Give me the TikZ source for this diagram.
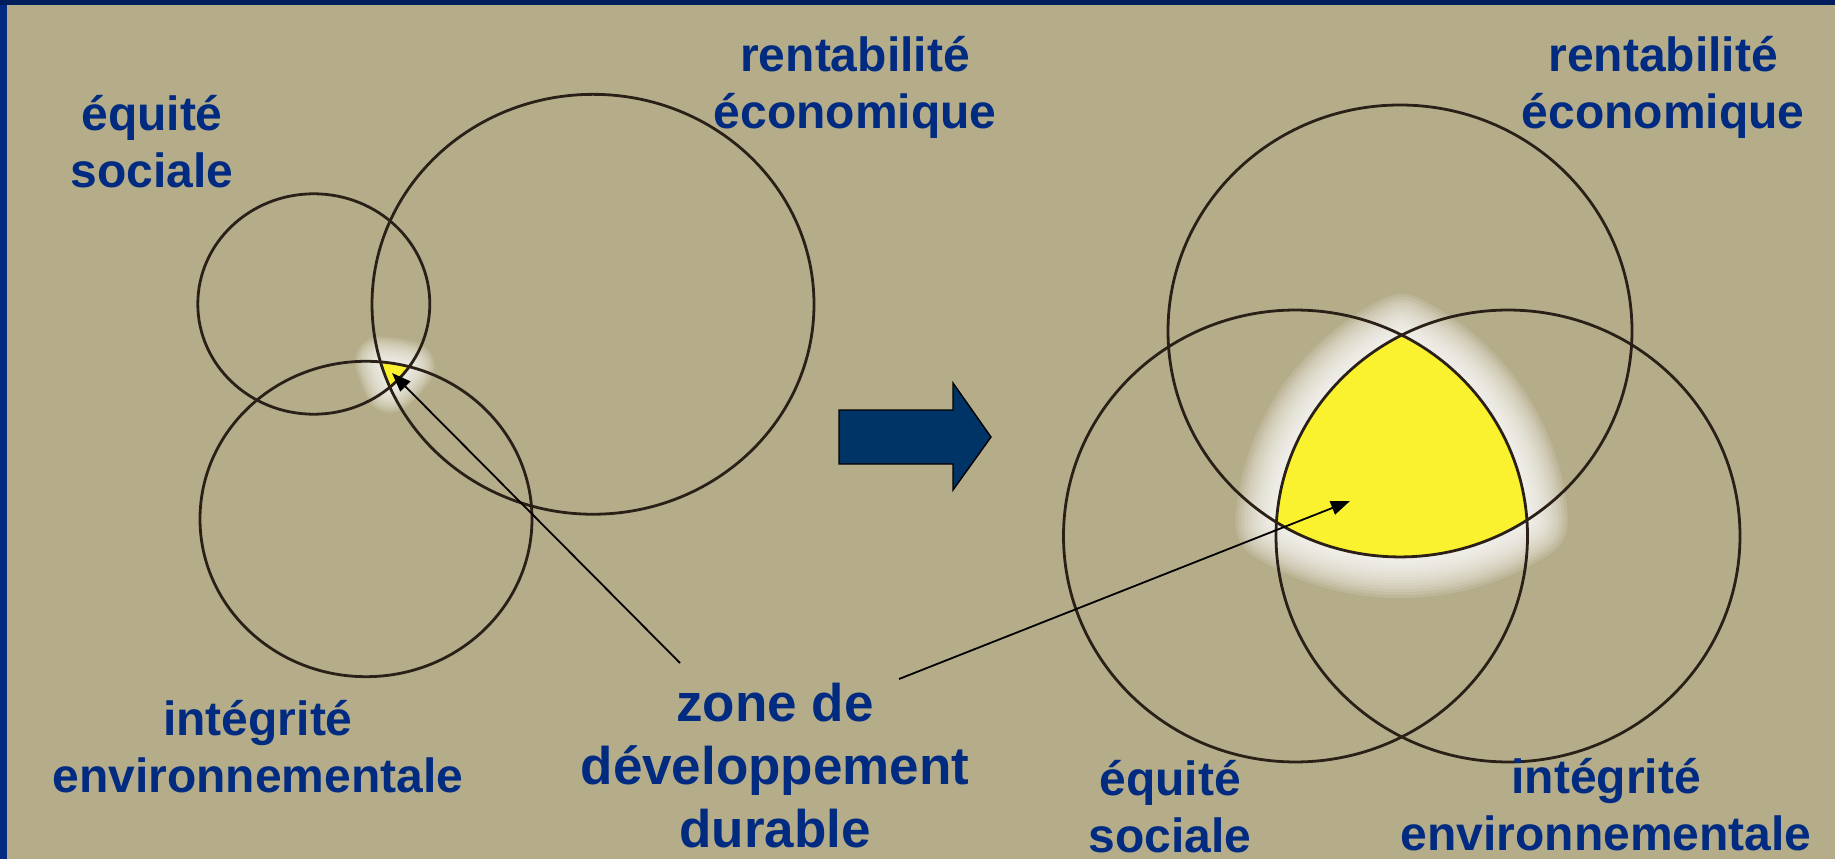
\documentclass[tikz,border=0pt]{standalone}
\usepackage{fontspec}
\setmainfont{Liberation Sans}
\usetikzlibrary{arrows.meta}
\definecolor{Sand}{HTML}{B5AD8A}
\definecolor{Navy}{HTML}{002B80}
\definecolor{NavyDark}{HTML}{001E5C}
\definecolor{ShiftBlue}{HTML}{003366}
\definecolor{Ring}{HTML}{2B2018}
\definecolor{Zone}{HTML}{FBF22F}
% outlines of the two overlaps (arcs of the three rings)
\newcommand{\smallzone}{(380.5,381.0) arc[start angle=-85.0,end angle=-74.92,radius=166]
  arc[start angle=34.68,end angle=48.95,radius=116]
  arc[start angle=156.76,end angle=164.06,radius=221] -- cycle}
\newcommand{\bigzone}{(1401.75,344.1) arc[start angle=-117.26,end angle=-176.52,radius=232]
  arc[start angle=122.19,end angle=56.84,radius=232]
  arc[start angle=-4.03,end angle=-62.74,radius=232] -- cycle}

\begin{document}
\begin{tikzpicture}[x=1pt,y=-1pt,>={Triangle[length=19pt,width=14pt]},
  every node/.style={text=Navy,font=\fontsize{48}{57}\selectfont\bfseries,align=center,anchor=base,inner sep=0pt},
  ring/.style={draw=Ring,line width=2.8pt},
  halo/.style={draw=white,line join=round},
  pointer/.style={draw=black,line width=1.8pt,->}]
  % slide background and frame
  \useasboundingbox (0,0) rectangle (1835,859);
  \fill[Sand] (0,0) rectangle (1835,859);
  \fill[Navy] (0,0) rectangle (7,859);
  \fill[NavyDark] (0,0) rectangle (1835,5);

  % before: three rings barely touching
  \begin{scope}[y=-0.95pt]
    \foreach \w in {3,7,...,51}
      \draw[halo,draw opacity=0.11,line width=\w] \smallzone;
    \fill[Zone] \smallzone;
    \draw[ring] (313.8,320) circle [radius=116];
    \draw[ring] (593,320.3) circle [radius=221];
    \draw[ring] (366,546.3) circle [radius=166];
  \end{scope}

  % after: three rings with a large common part
  \begin{scope}[y=-0.974pt]
    \foreach \w in {4,10,...,82}
      \draw[halo,draw opacity=0.12,line width=\w] \bigzone;
    \fill[Zone] \bigzone;
    \draw[ring] (1400,339.8) circle [radius=232];
    \draw[ring] (1295.5,550.3) circle [radius=232];
    \draw[ring] (1508,550.3) circle [radius=232];
  \end{scope}

  % block arrow between the two states
  \draw[fill=ShiftBlue,draw=black,line width=1.4pt]
    (839,410) -- (953,410) -- (953,383) -- (991,437) -- (953,490) -- (953,464) -- (839,464) -- cycle;

  % labels
  \node (socL) at (152,187) {équité\\sociale};
  \node (rentL) at (855,128) {rentabilité\\économique};
  \node (integL) at (258,792) {intégrité\\environnementale};
  \node (rentR) at (1663,128) {rentabilité\\économique};
  \node (socR) at (1170,852) {équité\\sociale};
  \node (integR) at (1606,850) {intégrité\\environnementale};
  \node[font=\fontsize{53}{63}\selectfont\bfseries] (zone) at (775,847) {zone de\\développement\\durable};

  % pointers into the overlaps
  \coordinate (fromL) at (680,663);
  \coordinate (tipL) at (392,373);
  \coordinate (fromR) at (899,679);
  \coordinate (tipR) at (1350,501);
  \draw[pointer] (fromL) -- (tipL);
  \draw[pointer] (fromR) -- (tipR);
\end{tikzpicture}
\end{document}
